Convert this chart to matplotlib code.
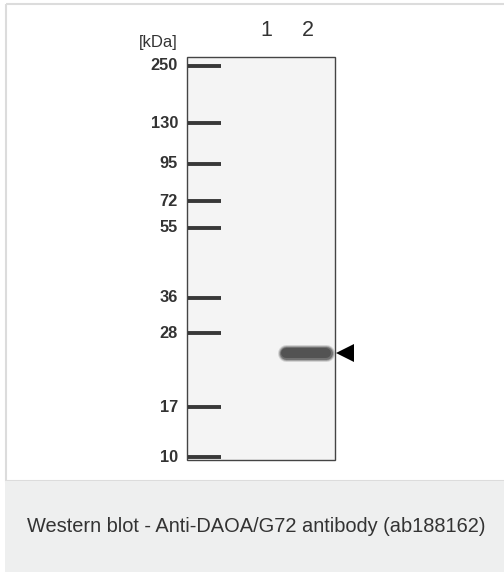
import numpy as np
import matplotlib
matplotlib.use("Agg")
import matplotlib.pyplot as plt
from matplotlib.patches import Rectangle

plt.rcParams['font.family'] = ['Liberation Sans', 'DejaVu Sans']

# marker ladder (kDa) and where each band sits on the blot (pixel rows)
marker_kda = ["250", "130", "95", "72", "55", "36", "28", "17", "10"]
marker_y = [66, 123, 164, 201, 228, 298, 333, 407, 457]

lanes = ["1", "2"]
lane_x = [266, 308]

# detected band: lane 2, ~24 kDa
band_lane = 2
band_y = 353
band_x = (279, 333)

caption = "Western blot - Anti-DAOA/G72 antibody (ab188162)"

W, H = 504, 572
fig = plt.figure(figsize=(W / 100, H / 100), dpi=100)
ax = fig.add_axes([0, 0, 1, 1])
ax.set_xlim(0, W)
ax.set_ylim(H, 0)
ax.axis("off")

# frame + caption panel
ax.add_patch(Rectangle((0, 0), W, H, color="white", zorder=0))
ax.add_patch(Rectangle((5.5, 3.5), W, 477, fill=False, ec="#dcdcdc", lw=1.5, zorder=1))
ax.add_patch(Rectangle((5, 481), W, H - 481, color="#eeefef", ec="none", zorder=1))
ax.text(256, 526, caption, ha="center", va="center", fontsize=14.4, color="#333333")

# blot membrane
blot_left, blot_right, blot_top, blot_bottom = 187, 335, 57, 460
ax.add_patch(Rectangle((blot_left, blot_top), blot_right - blot_left, blot_bottom - blot_top,
                       fc="#f4f4f4", ec="#444444", lw=1.0, zorder=2))

# ladder bands + labels
for kda, y in zip(marker_kda, marker_y):
    ax.plot([blot_left + 1, blot_left + 34], [y, y], color="#383838", lw=2.8,
            solid_capstyle="butt", zorder=3)
    ax.text(178, y, kda, ha="right", va="center", fontsize=11.8,
            fontweight="bold", color="#333333")

ax.text(158, 42, "[kDa]", ha="center", va="center", fontsize=12, color="#333333")

for lab, x in zip(lanes, lane_x):
    ax.text(x, 31, lab, ha="center", va="center", fontsize=15.5, color="#333333")

# specific band in lane 2 (soft halo + core)
for lw, a in [(17, 0.2), (15, 0.35), (13, 0.6), (10, 0.9)]:
    ax.plot([band_x[0] + 7, band_x[1] - 7], [band_y, band_y], color="#505050",
            lw=lw * 0.72, alpha=a, solid_capstyle="round", zorder=3)

# arrowhead pointing at the band
ax.plot(band_x[1] + 12, band_y, marker="<", markersize=13, color="black",
        markeredgewidth=0, zorder=4)

fig.savefig("out.png", dpi=100)
